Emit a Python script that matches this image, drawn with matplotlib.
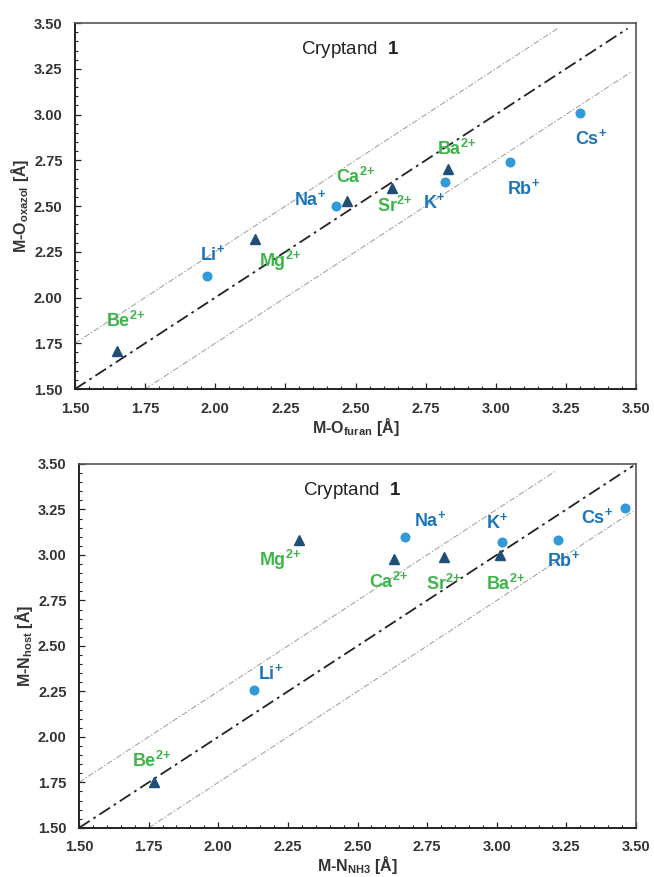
import numpy as np
import matplotlib
matplotlib.use("Agg")
import matplotlib.pyplot as plt
from matplotlib.ticker import MultipleLocator, FormatStrFormatter

plt.rcParams["font.family"] = ["Liberation Sans", "DejaVu Sans"]
plt.rcParams["mathtext.fontset"] = "custom"
plt.rcParams["mathtext.rm"] = "Liberation Sans"
plt.rcParams["mathtext.bf"] = "Liberation Sans:bold"
plt.rcParams["mathtext.default"] = "bf"

# ---- data: ions, charges and distances (Å) ----
ions = ["Be", "Li", "Mg", "Na", "Ca", "Sr", "K", "Ba", "Rb", "Cs"]
charge = ["2+", "+", "2+", "+", "2+", "2+", "+", "2+", "+", "+"]

# panel 1: M-O(furan) vs M-O(oxazol)
o_furan = [1.65, 1.97, 2.14, 2.43, 2.47, 2.63, 2.82, 2.83, 3.05, 3.30]
o_oxazol = [1.71, 2.12, 2.32, 2.50, 2.53, 2.60, 2.63, 2.70, 2.74, 3.01]
lab1_x = [1.68, 1.99, 2.23, 2.34, 2.50, 2.64, 2.78, 2.86, 3.10, 3.34]
lab1_y = [1.87, 2.24, 2.20, 2.54, 2.66, 2.50, 2.52, 2.81, 2.60, 2.87]

# panel 2: M-N(NH3) vs M-N(host)
n_nh3 = [1.77, 2.13, 2.29, 2.67, 2.63, 2.81, 3.02, 3.01, 3.22, 3.46]
n_host = [1.75, 2.26, 3.08, 3.10, 2.98, 2.99, 3.07, 3.00, 3.08, 3.26]
lab2_x = [1.76, 2.19, 2.22, 2.76, 2.61, 2.81, 3.00, 3.03, 3.24, 3.36]
lab2_y = [1.87, 2.35, 2.97, 3.19, 2.85, 2.84, 3.18, 2.84, 2.97, 3.21]

C_CIRC = "#2F9BD8"
C_TRI = "#1F4E79"
C_MONO = "#1B75BC"
C_DI = "#3DB54A"

fig = plt.figure(figsize=(6.54, 8.77), dpi=100)
ax1 = fig.add_axes([0.1147, 0.5564, 0.8578, 0.4173])
ax2 = fig.add_axes([0.1208, 0.0560, 0.8517, 0.4150])


def sup(q):
    # charge as superscript; "2{+}" avoids binary-operator spacing
    if q == "+":
        return r"$^{\!+}$"
    return "$^{2{+}}$"


def panel(ax, xs, ys, lx, ly, xlabel, ylabel, ends):
    # reference lines y = x and y = x +/- 0.25
    (a0, a1), (u0, u1), (l0, l1) = ends
    t = np.array([a0, a1]); ax.plot(t, t, color="#222222", lw=1.3,
                                    dashes=(7, 2.5, 1.5, 2.5), zorder=1)
    t = np.array([u0, u1]); ax.plot(t, t + 0.25, color="#9a9a9a", lw=0.7,
                                    dashes=(6, 2, 1.5, 2), zorder=1)
    t = np.array([l0, l1]); ax.plot(t, t - 0.25, color="#9a9a9a", lw=0.7,
                                    dashes=(6, 2, 1.5, 2), zorder=1)
    for x, y, q, el, tx, ty in zip(xs, ys, charge, ions, lx, ly):
        di = q == "2+"
        ax.plot(x, y, marker="^" if di else "o", ms=6.5 if di else 6.2,
                color=C_TRI if di else C_CIRC, ls="none", zorder=3)
        ax.text(tx, ty, el + sup(q), color=C_DI if di else C_MONO,
                fontsize=13, fontweight="bold", ha="center", va="center")
    ax.text(2.48, 3.355, "Cryptand  $1$", fontsize=13.5, ha="center",
            va="center", color="#222222")
    ax.set_xlim(1.5, 3.5); ax.set_ylim(1.5, 3.5)
    for a in (ax.xaxis, ax.yaxis):
        a.set_major_locator(MultipleLocator(0.25))
        a.set_minor_locator(MultipleLocator(0.05))
        a.set_major_formatter(FormatStrFormatter("%.2f"))
    ax.tick_params(which="both", direction="in", top=False, right=False,
                   color="#222222", labelsize=10.5, labelcolor="#333333")
    ax.tick_params(which="major", length=4.5, width=0.9)
    ax.tick_params(axis="y", which="major", pad=9)
    ax.tick_params(axis="x", which="major", pad=9)
    ax.tick_params(which="minor", length=2.5, width=0.8)
    for lb in ax.get_xticklabels() + ax.get_yticklabels():
        lb.set_fontweight("bold")
    for s in ("left", "bottom"):
        ax.spines[s].set_color("#222222"); ax.spines[s].set_linewidth(1.4)
    for s in ("top", "right"):
        ax.spines[s].set_color("#555555"); ax.spines[s].set_linewidth(1.2)
    ax.set_xlabel(xlabel, fontsize=11.5, fontweight="bold", color="#333333",
                  labelpad=0)
    ax.set_ylabel(ylabel, fontsize=11.5, fontweight="bold", color="#333333",
                  labelpad=2)


panel(ax1, o_furan, o_oxazol, lab1_x, lab1_y,
      "M-O$_{furan}$ [Å]", "M-O$_{oxazol}$ [Å]",
      ((1.5, 3.47), (1.5, 3.22), (1.75, 3.48)))
panel(ax2, n_nh3, n_host, lab2_x, lab2_y,
      "M-N$_{NH3}$ [Å]", "M-N$_{host}$ [Å]",
      ((1.5, 3.49), (1.5, 3.21), (1.75, 3.49)))

fig.savefig("out.png", dpi=100)
